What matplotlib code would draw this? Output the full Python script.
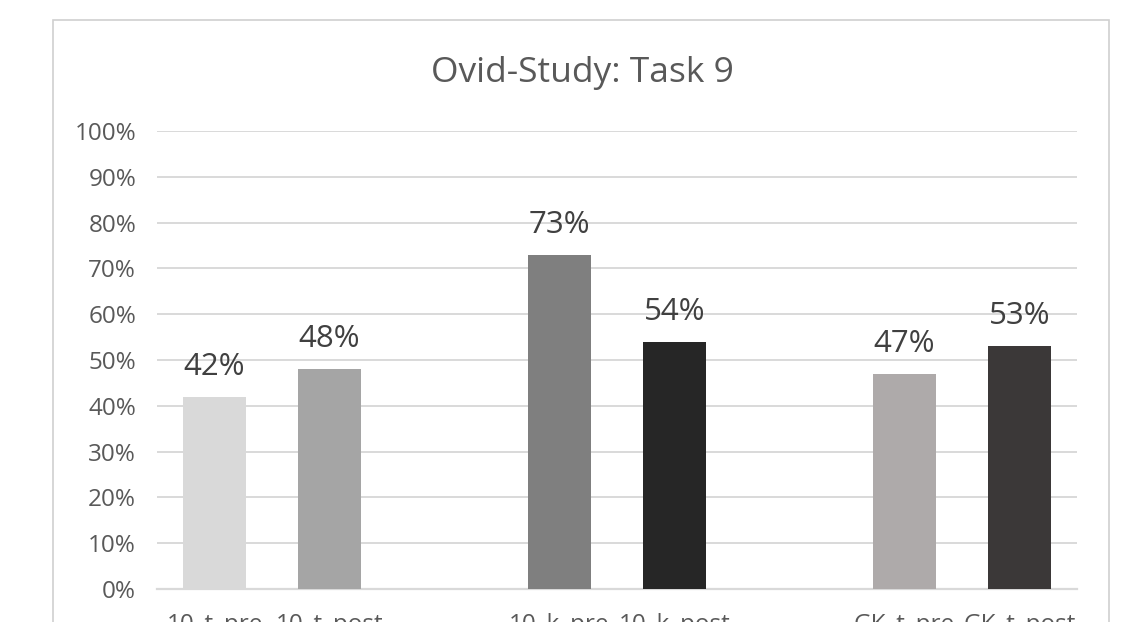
import matplotlib
matplotlib.use("Agg")
import matplotlib.pyplot as plt
from matplotlib.patches import Rectangle

categories = ["10_t_pre", "10_t_post", "", "10_k_pre", "10_k_post", "", "GK_t_pre", "GK_t_post"]
values = [42, 48, None, 73, 54, None, 47, 53]
colors = ["#d9d9d9", "#a5a5a5", None, "#7f7f7f", "#262626", None, "#aeaaaa", "#3b3838"]
yticks = list(range(0, 101, 10))
title = "Ovid-Study: Task 9"

plt.rcParams['font.family'] = ['Open Sans', 'DejaVu Sans']
W, H = 1145, 622
fig = plt.figure(figsize=(W / 100, H / 100), dpi=100)
fig.patch.set_facecolor("white")

# outer chart frame (extends below the visible area)
fig.add_artist(Rectangle((53 / W, -0.2), (1109 - 53) / W, 1.2 - 20 / H,
                         transform=fig.transFigure, fill=False,
                         edgecolor="#d0d0d0", linewidth=1.2, clip_on=False))

ax = fig.add_axes([157 / W, (H - 589) / H, (1077 - 157) / W, (589 - 131) / H])
ax.set_xlim(-0.5, len(categories) - 0.5)
ax.set_ylim(0, 100)

for i, (v, c) in enumerate(zip(values, colors)):
    if v is None:
        continue
    ax.bar(i, v, width=0.555, color=c, zorder=3)
    ax.annotate(f"{v}%", (i, v), xytext=(0, 15.8), textcoords="offset points",
                ha="center", va="baseline", fontsize=22.5, color="#404040")

ax.set_yticks(yticks)
ax.set_yticklabels([f"{t}%" for t in yticks], fontsize=17.5, color="#595959")
ax.yaxis.grid(True, color="#d9d9d9", linewidth=1.4, zorder=0)
ax.set_axisbelow(True)
ax.tick_params(axis="y", length=0, pad=15)

ax.set_xticks([i for i, c in enumerate(categories) if c])
ax.set_xticklabels([c for c in categories if c], fontsize=17.5, color="#595959")
ax.tick_params(axis="x", length=0, pad=17)

for s in ["top", "right", "left"]:
    ax.spines[s].set_visible(False)
ax.spines["bottom"].set_color("#d9d9d9")
ax.spines["bottom"].set_linewidth(1.6)

fig.text(582.5 / W, 1 - 82 / H, title, ha="center", va="baseline",
         fontsize=25.5, color="#595959")

fig.savefig("out.png", dpi=100)
